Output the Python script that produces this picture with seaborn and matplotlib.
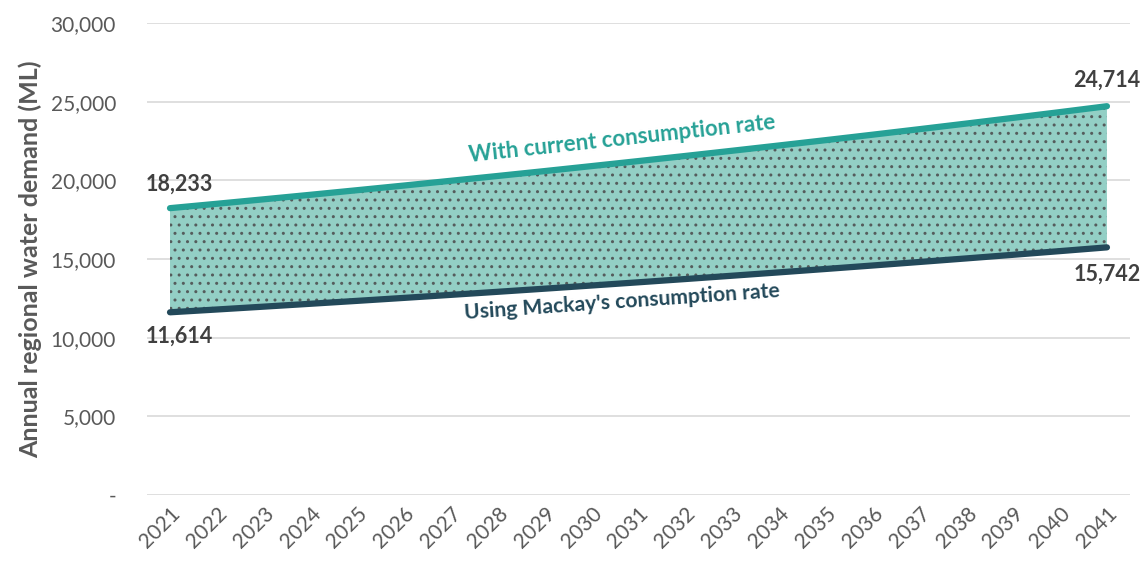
import matplotlib
matplotlib.use("Agg")
import matplotlib.pyplot as plt
import matplotlib.ticker as mticker
import numpy as np
import pandas as pd
import seaborn as sns

years = list(range(2021, 2042))
current_rate = [18233, 18512, 18796, 19084, 19377, 19673, 19975, 20281, 20591, 20907,
                21227, 21552, 21883, 22218, 22558, 22904, 23255, 23611, 23973, 24340, 24714]
mackay_rate = [11614, 11792, 11973, 12156, 12342, 12531, 12723, 12918, 13116, 13317,
               13521, 13728, 13939, 14152, 14369, 14589, 14813, 15040, 15270, 15504, 15742]
series_names = ["With current consumption rate", "Using Mackay's consumption rate"]
y_ticks = [0, 5000, 10000, 15000, 20000, 25000, 30000]
y_label = "Annual regional water demand (ML)"

teal = "#26A196"
navy = "#23495A"
fill_col = "#93CFC5"
grey_text = "#595959"
label_col = "#404040"

sns.set_theme(style="white")
plt.rcParams["font.family"] = ["Lato", "DejaVu Sans"]
plt.rcParams["hatch.color"] = "#555c5c"
plt.rcParams["hatch.linewidth"] = 1.0

df = pd.DataFrame({
    "pos": list(range(len(years))) * 2,
    "demand": current_rate + mackay_rate,
    "series": [series_names[0]] * len(years) + [series_names[1]] * len(years),
})

fig = plt.figure(figsize=(11.47, 5.62), dpi=100)
ax = fig.add_axes([0.1278, 0.1192, 0.8577, 0.8398])

x = np.arange(len(years))
ax.fill_between(x, mackay_rate, current_rate, facecolor=fill_col, edgecolor="#555c5c",
                hatch="..", linewidth=0, zorder=1)

sns.lineplot(data=df, x="pos", y="demand", hue="series",
             palette={series_names[0]: teal, series_names[1]: navy},
             linewidth=4.5, legend=False, ax=ax, zorder=3)
for line in ax.get_lines():
    line.set_solid_capstyle("round")

ax.set_xlim(-0.5, len(years) - 0.5)
ax.set_ylim(0, 30000)
ax.set_yticks(y_ticks)
ax.yaxis.set_major_formatter(mticker.FuncFormatter(lambda v, p: "-" if v == 0 else f"{int(v):,}"))
ax.set_xticks(x)
ax.set_xticklabels([str(y) for y in years], rotation=45, ha="right", rotation_mode="anchor")
ax.tick_params(axis="y", length=0, pad=22, labelsize=15, labelcolor=grey_text)
ax.tick_params(axis="x", length=0, pad=6, labelsize=15, labelcolor=grey_text)
ax.grid(axis="y", color="#d9d9d9", linewidth=1.2, zorder=0)
ax.set_axisbelow(True)
for s in ax.spines.values():
    s.set_visible(False)
ax.set_xlabel("")
ax.set_ylabel(y_label, fontsize=18, fontweight="bold", color=grey_text, labelpad=6)

# end-point value labels
lab_kw = dict(fontsize=15.5, fontweight="bold", color=label_col)
ax.annotate(f"{current_rate[0]:,}", (0, current_rate[0]), xytext=(7, 17),
            textcoords="offset points", ha="center", va="center", **lab_kw)
ax.annotate(f"{mackay_rate[0]:,}", (0, mackay_rate[0]), xytext=(7, -17),
            textcoords="offset points", ha="center", va="center", **lab_kw)
ax.annotate(f"{current_rate[-1]:,}", (x[-1], current_rate[-1]), xytext=(0, 19),
            textcoords="offset points", ha="center", va="center", **lab_kw)
ax.annotate(f"{mackay_rate[-1]:,}", (x[-1], mackay_rate[-1]), xytext=(0, -19),
            textcoords="offset points", ha="center", va="center", **lab_kw)

# series names written along the lines
ax.text(9.65, 22650, series_names[0], rotation=6.2, ha="center", va="center",
        fontsize=16, fontweight="bold", color=teal, rotation_mode="anchor")
ax.text(9.65, 12250, series_names[1], rotation=4.0, ha="center", va="center",
        fontsize=15.2, fontweight="bold", color=navy, rotation_mode="anchor")

fig.savefig("out.png", dpi=100)
